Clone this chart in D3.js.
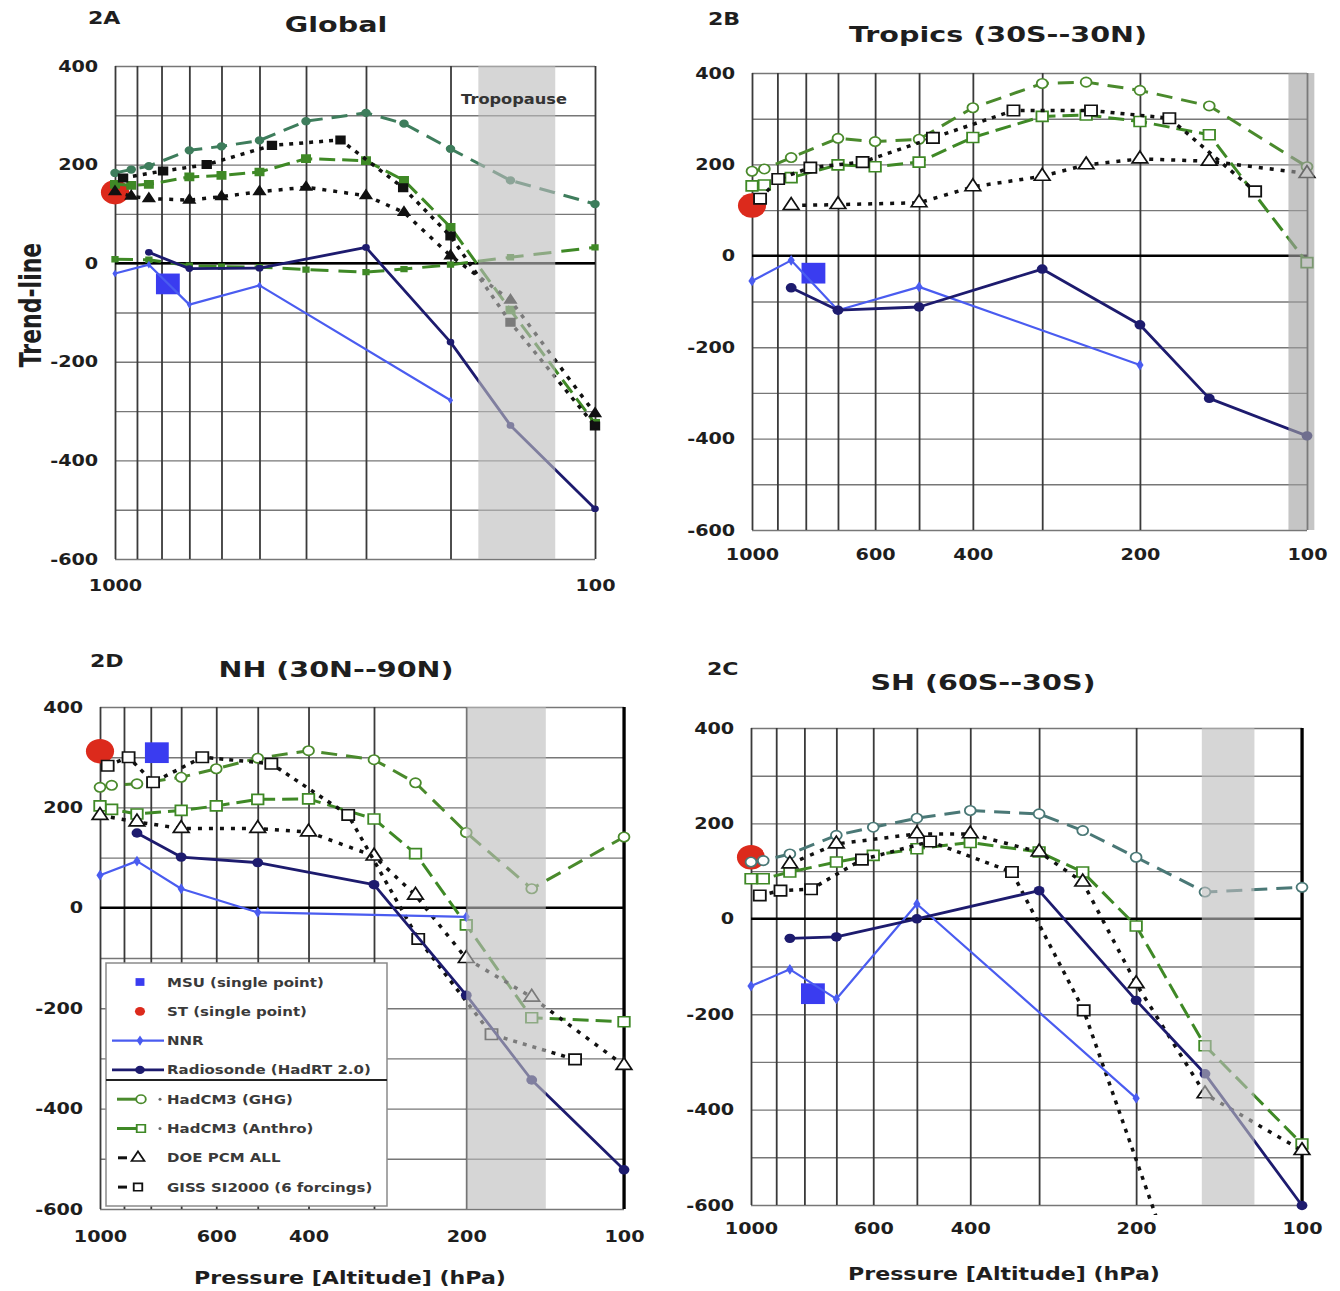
<!DOCTYPE html>
<html>
<head>
<meta charset="utf-8">
<title>Trend-line profiles</title>
<script src="https://cdn.jsdelivr.net/npm/d3@7/dist/d3.min.js"></script>
<style>
  body { margin: 0; background: #fff; }
  text { font-family: "DejaVu Sans", Verdana, sans-serif; font-weight: bold; fill: #1e1e1e; }
</style>
</head>
<body>
<svg id="fig" width="1340" height="1291"></svg>
<script>
// ---------------- axes ----------------
const gridPressures = [1000, 900, 800, 700, 600, 500, 400, 300, 200, 100];
const gridTrends = [-600, -500, -400, -300, -200, -100, 0, 100, 200, 300, 400];
const trendTicks = [-600, -400, -200, 0, 200, 400];
const pressureTicksGlobal = [1000, 100];
const pressureTicks = [1000, 600, 400, 200, 100];

// ---------------- 2A Global : [pressure hPa, trend] ----------------
const gST = [[1000, 144]];
const gMSU = [[776, -42]];
const gNNR = [[1000, -21], [850, -3], [700, -84], [500, -45], [200, -278]];
const gSonde = [[850, 22], [700, -11], [500, -10], [300, 32], [200, -160], [150, -329], [100, -498]];
const gGHG = [[1000, 183], [925, 190], [850, 197], [700, 229], [600, 237], [500, 249], [400, 288], [300, 305], [250, 283], [200, 232], [150, 168], [100, 120]];
const gAnthro = [[1000, 160], [925, 158], [850, 160], [700, 175], [600, 178], [500, 185], [400, 212], [300, 208], [250, 168], [200, 73], [150, -95], [100, -325]];
const gLow = [[1000, 8], [850, 7], [700, -5], [600, -7], [500, -8], [400, -13], [300, -18], [250, -12], [200, -3], [150, 12], [100, 32]];
const gDOE = [[1000, 145], [925, 136], [850, 131], [700, 128], [600, 135], [500, 145], [400, 154], [300, 137], [250, 103], [200, 15], [150, -75], [100, -305]];
const gGISS = [[962, 173], [794, 187], [644, 200], [471, 239], [339, 250], [251, 153], [200, 55], [150, -120], [100, -330]];

// ---------------- 2B Tropics ----------------
const tST = [[1000, 110]];
const tMSU = [[775, -38]];
const tNNR = [[1000, -55], [850, -10], [700, -119], [500, -68], [200, -239]];
const tSonde = [[850, -70], [700, -119], [500, -112], [300, -29], [200, -151], [150, -312], [100, -394]];
const tGHG = [[1000, 185], [950, 190], [850, 215], [700, 257], [600, 250], [500, 255], [400, 324], [300, 377], [250, 380], [200, 362], [150, 328], [100, 195]];
const tAnthro = [[1000, 153], [950, 155], [850, 171], [700, 199], [600, 195], [500, 205], [400, 259], [300, 305], [250, 308], [200, 294], [150, 265], [100, -15]];
const tDOE = [[850, 110], [700, 112], [500, 116], [400, 151], [300, 174], [250, 199], [200, 212], [150, 207], [100, 180]];
const tGISS = [[967, 125], [897, 168], [785, 193], [632, 205], [472, 258], [338, 318], [245, 318], [177, 301], [124, 141]];

// ---------------- 2D NH ----------------
const nST = [[1000, 312]];
const nMSU = [[779, 309]];
const nNNR = [[1000, 65], [850, 93], [700, 38], [500, -9], [200, -18]];
const nSonde = [[850, 149], [700, 101], [500, 90], [300, 46], [200, -174], [150, -343], [100, -522]];
const nGHG = [[1000, 240], [950, 244], [850, 247], [700, 260], [600, 277], [500, 298], [400, 313], [300, 295], [250, 249], [200, 150], [150, 38], [100, 141]];
const nAnthro = [[1000, 203], [950, 196], [850, 187], [700, 194], [600, 203], [500, 216], [400, 217], [300, 177], [250, 108], [200, -34], [150, -219], [100, -227]];
const nDOE = [[1000, 184], [850, 171], [700, 158], [500, 158], [400, 151], [300, 103], [250, 25], [200, -101], [150, -178], [100, -314]];
const nGISS = [[967, 283], [882, 300], [792, 250], [638, 300], [471, 287], [336, 185], [247, -62], [179, -252], [124, -302]];

// ---------------- 2C SH ----------------
const sST = [[1000, 129]];
const sMSU = [[772, -157]];
const sNNR = [[1000, -141], [850, -106], [700, -168], [500, 31], [200, -376]];
const sSonde = [[850, -41], [700, -38], [500, 0], [300, 59], [200, -171], [150, -325], [100, -601]];
const sGHG = [[1000, 119], [950, 122], [850, 136], [700, 175], [600, 192], [500, 211], [400, 227], [300, 220], [250, 185], [200, 129], [150, 56], [100, 66]];
const sAnthro = [[1000, 84], [950, 84], [850, 98], [700, 119], [600, 133], [500, 147], [400, 160], [300, 140], [250, 98], [200, -15], [150, -266], [100, -472]];
const sDOE = [[850, 115], [700, 157], [500, 178], [400, 178], [300, 140], [250, 77], [200, -136], [150, -367], [100, -486]];
const sGISS = [[964, 49], [884, 59], [778, 62], [629, 124], [473, 162], [336, 98], [249, -192], [170, -737]];

// ---------------- legend ----------------
const legendKeys = ["msu", "st", "nnr", "sonde", "ghg", "anthro", "doe", "giss"];
const legendLabels = ["MSU (single point)", "ST (single point)", "NNR", "Radiosonde (HadRT 2.0)",
  "HadCM3 (GHG)", "HadCM3 (Anthro)", "DOE PCM ALL", "GISS SI2000 (6 forcings)"];

// styles of each series
const styles = {
  st:     { color: "#dc2a1c", sym: d3.symbolCircle, size: 470, fill: true, single: true },
  msu:    { color: "#3a3cf0", sym: d3.symbolSquare, size: 430, fill: true, single: true },
  nnr:    { color: "#4a5cf0", width: 2.2, sym: d3.symbolDiamond, size: 34, fill: true },
  sonde:  { color: "#1d1b6e", width: 2.8, sym: d3.symbolCircle, size: 70, fill: true },
  ghg:    { color: "#4a8a2c", width: 3, dash: "16,9", sym: d3.symbolCircle, size: 70 },
  anthro: { color: "#3f8926", width: 3, dash: "16,7", sym: d3.symbolSquare, size: 100 },
  low:    { color: "#3f8926", width: 3, dash: "18,10", sym: d3.symbolSquare, size: 45 },
  doe:    { color: "#111", width: 3.5, dash: "4,7", sym: d3.symbolTriangle, size: 80 },
  giss:   { color: "#111", width: 3.5, dash: "4,6", sym: d3.symbolSquare, size: 110 }
};
const drawOrder = ["st", "msu", "low", "ghg", "anthro", "doe", "giss", "nnr", "sonde"];

const panels = [
  { tag: "2A", title: "Global", x0: 115, x1: 595, y0: 66, y1: 559,
    band: [175, 121], bandFill: "#bdbdbd", xticks: pressureTicksGlobal, filled: true, markScale: 0.5, ghgColor: "#3e7d5c",
    tagX: 88, tagY: 24, titleX: 336, titleY: 32, yPad: 14, xPad: 21,
    series: { st: gST, msu: gMSU, nnr: gNNR, sonde: gSonde, ghg: gGHG, anthro: gAnthro, low: gLow, doe: gDOE, giss: gGISS } },
  { tag: "2B", title: "Tropics (30S--30N)", x0: 752, x1: 1307, y0: 73, y1: 530,
    band: [108, 97], bandFill: "#a2a2a2", xticks: pressureTicks,
    tagX: 708, tagY: 25, titleX: 998, titleY: 42, yPad: 14, xPad: 19,
    series: { st: tST, msu: tMSU, nnr: tNNR, sonde: tSonde, ghg: tGHG, anthro: tAnthro, doe: tDOE, giss: tGISS } },
  { tag: "2D", title: "NH (30N--90N)", x0: 100, x1: 624, y0: 707, y1: 1209,
    band: [200, 141], bandFill: "#bdbdbd", xticks: pressureTicks, rightAxis: true,
    tagX: 90, tagY: 667, titleX: 336, titleY: 677, yPad: 14, xPad: 22, axisTitleX: 350, axisTitleY: 1284,
    series: { st: nST, msu: nMSU, nnr: nNNR, sonde: nSonde, ghg: nGHG, anthro: nAnthro, doe: nDOE, giss: nGISS } },
  { tag: "2C", title: "SH (60S--30S)", x0: 751, x1: 1302, y0: 728, y1: 1205,
    band: [152, 122], bandFill: "#bdbdbd", xticks: pressureTicks, rightAxis: true, ghgColor: "#4a7876",
    tagX: 707, tagY: 675, titleX: 983, titleY: 690, yPad: 14, xPad: 18, axisTitleX: 1004, axisTitleY: 1280,
    series: { st: sST, msu: sMSU, nnr: sNNR, sonde: sSonde, ghg: sGHG, anthro: sAnthro, doe: sDOE, giss: sGISS } }
];

const svg = d3.select("#fig");
const plainNumber = d => String(d);   // hyphen-minus, as in the original figure

// text stretched horizontally like the reference figure
function label(sel, x, y, txt, size, anchor, sx) {
  return sel.append("text")
    .attr("transform", `translate(${x},${y}) scale(${sx},1)`)
    .attr("text-anchor", anchor)
    .attr("font-size", size)
    .text(txt);
}

function drawPanel(cfg) {
  const x = d3.scaleLog().domain([1000, 100]).range([cfg.x0, cfg.x1]);
  const y = d3.scaleLinear().domain([-600, 400]).range([cfg.y1, cfg.y0]);
  const g = svg.append("g");

  // horizontal grid
  g.append("g").attr("transform", `translate(${cfg.x0},0)`)
    .call(d3.axisLeft(y).tickValues(gridTrends).tickSize(-(cfg.x1 - cfg.x0)).tickFormat(""))
    .call(s => s.select(".domain").remove())
    .selectAll(".tick line").attr("stroke", "#777").attr("stroke-width", 1.4);

  // vertical grid
  g.append("g").attr("transform", `translate(0,${cfg.y1})`)
    .call(d3.axisBottom(x).tickValues(gridPressures).tickSize(-(cfg.y1 - cfg.y0)).tickFormat(""))
    .call(s => s.select(".domain").remove())
    .selectAll(".tick line").attr("stroke", "#3a3a3a").attr("stroke-width", 1.8);

  g.append("line")
    .attr("x1", cfg.x0).attr("x2", cfg.x1).attr("y1", y(0)).attr("y2", y(0))
    .attr("stroke", "#000").attr("stroke-width", 2.4);

  if (cfg.rightAxis) {
    g.append("line")
      .attr("x1", x(100)).attr("x2", x(100)).attr("y1", cfg.y0).attr("y2", cfg.y1)
      .attr("stroke", "#000").attr("stroke-width", 3.2);
  }

  // tick labels
  g.append("g").attr("transform", `translate(${cfg.x0},0)`)
    .call(d3.axisLeft(y).tickValues(trendTicks).tickFormat(plainNumber).tickSize(0).tickPadding(cfg.yPad))
    .call(s => s.select(".domain").remove())
    .selectAll("text").attr("font-size", 16).attr("transform", "scale(1.2,1)");

  g.append("g").attr("transform", `translate(0,${cfg.y1})`)
    .call(d3.axisBottom(x).tickValues(cfg.xticks).tickFormat(plainNumber).tickSize(0).tickPadding(cfg.xPad))
    .call(s => s.select(".domain").remove())
    .selectAll("text").attr("font-size", 16).attr("transform", "scale(1.2,1)");

  // data
  const clipId = "clip" + cfg.tag;
  svg.append("clipPath").attr("id", clipId).append("rect")
    .attr("x", cfg.x0 - 20).attr("y", cfg.y0 - 20)
    .attr("width", cfg.x1 - cfg.x0 + 40).attr("height", cfg.y1 - cfg.y0 + 30);
  const plot = g.append("g").attr("clip-path", `url(#${clipId})`);

  const line = d3.line().x(d => x(d[0])).y(d => y(d[1]));
  const ms = cfg.markScale || 1;

  drawOrder.forEach(key => {
    const data = cfg.series[key];
    if (!data) return;
    const st = styles[key];
    const color = (key === "ghg" && cfg.ghgColor) ? cfg.ghgColor : st.color;
    if (st.width) {
      plot.append("path").datum(data)
        .attr("d", line)
        .attr("fill", "none")
        .attr("stroke", color)
        .attr("stroke-width", st.width)
        .attr("stroke-dasharray", st.dash || null)
        .attr("stroke-linejoin", "round");
    }
    plot.selectAll(null).data(data).join("path")
      .attr("transform", d => `translate(${x(d[0])},${y(d[1])}) scale(1.15,1)`)
      .attr("d", d3.symbol().type(st.sym).size(st.single ? st.size : st.size * ms))
      .attr("fill", st.fill || cfg.filled ? color : "#fff")
      .attr("stroke", color)
      .attr("stroke-width", st.fill ? 0 : 1.6);
  });

  // tropopause band (lies over the lines, which look faded inside it)
  plot.append("rect")
    .attr("x", x(cfg.band[0])).attr("y", cfg.y0)
    .attr("width", x(cfg.band[1]) - x(cfg.band[0])).attr("height", cfg.y1 - cfg.y0)
    .attr("fill", cfg.bandFill).attr("opacity", 0.62);

  // texts
  label(g, cfg.tagX, cfg.tagY, cfg.tag, 17, "start", 1.3);
  label(g, cfg.titleX, cfg.titleY, cfg.title, 22, "middle", 1.3);
  if (cfg.axisTitleX) label(g, cfg.axisTitleX, cfg.axisTitleY, "Pressure [Altitude] (hPa)", 17, "middle", 1.3);
}

panels.forEach(drawPanel);

// extra texts of panel 2A
label(svg, 514, 104, "Tropopause", 13.5, "middle", 1.2).style("fill", "#333");
svg.append("text")
  .attr("transform", "translate(41,305) rotate(-90) scale(1,1.35)")
  .attr("text-anchor", "middle")
  .attr("font-size", 22)
  .text("Trend-line");

// legend of panel 2D
function drawLegend() {
  const L = svg.append("g");
  L.append("rect").attr("x", 106).attr("y", 963).attr("width", 281).attr("height", 243)
    .attr("fill", "#fff").attr("stroke", "#8a8a8a").attr("stroke-width", 1.5);
  L.append("line").attr("x1", 106).attr("x2", 387).attr("y1", 1080).attr("y2", 1080)
    .attr("stroke", "#222").attr("stroke-width", 2);

  legendKeys.forEach((k, i) => {
    const yy = 982 + i * 29.3;
    const st = styles[k];
    const row = L.append("g");
    let mx = 140;
    if (k === "nnr" || k === "sonde") {
      row.append("line").attr("x1", 112).attr("x2", 164).attr("y1", yy).attr("y2", yy)
        .attr("stroke", st.color).attr("stroke-width", st.width);
    } else if (k === "ghg" || k === "anthro") {
      row.append("line").attr("x1", 117).attr("x2", 136).attr("y1", yy).attr("y2", yy)
        .attr("stroke", st.color).attr("stroke-width", 3);
      row.append("circle").attr("cx", 160).attr("cy", yy).attr("r", 1.5).attr("fill", "#666");
      mx = 141;
    } else if (k === "doe" || k === "giss") {
      row.append("line").attr("x1", 118).attr("x2", 127).attr("y1", yy).attr("y2", yy)
        .attr("stroke", st.color).attr("stroke-width", 3);
      mx = 138;
    }
    const small = (k === "msu" || k === "st") ? 60 : (k === "nnr" ? 30 : 55);
    row.append("path")
      .attr("transform", `translate(${mx},${yy}) scale(1.15,1)`)
      .attr("d", d3.symbol().type(st.sym).size(small))
      .attr("fill", st.fill ? st.color : "#fff")
      .attr("stroke", st.color)
      .attr("stroke-width", st.fill ? 0 : 1.6);
    label(row, 167, yy + 4.5, legendLabels[i], 12.5, "start", 1.2).style("fill", "#3a3a3a");
  });
}
drawLegend();
</script>
</body>
</html>
